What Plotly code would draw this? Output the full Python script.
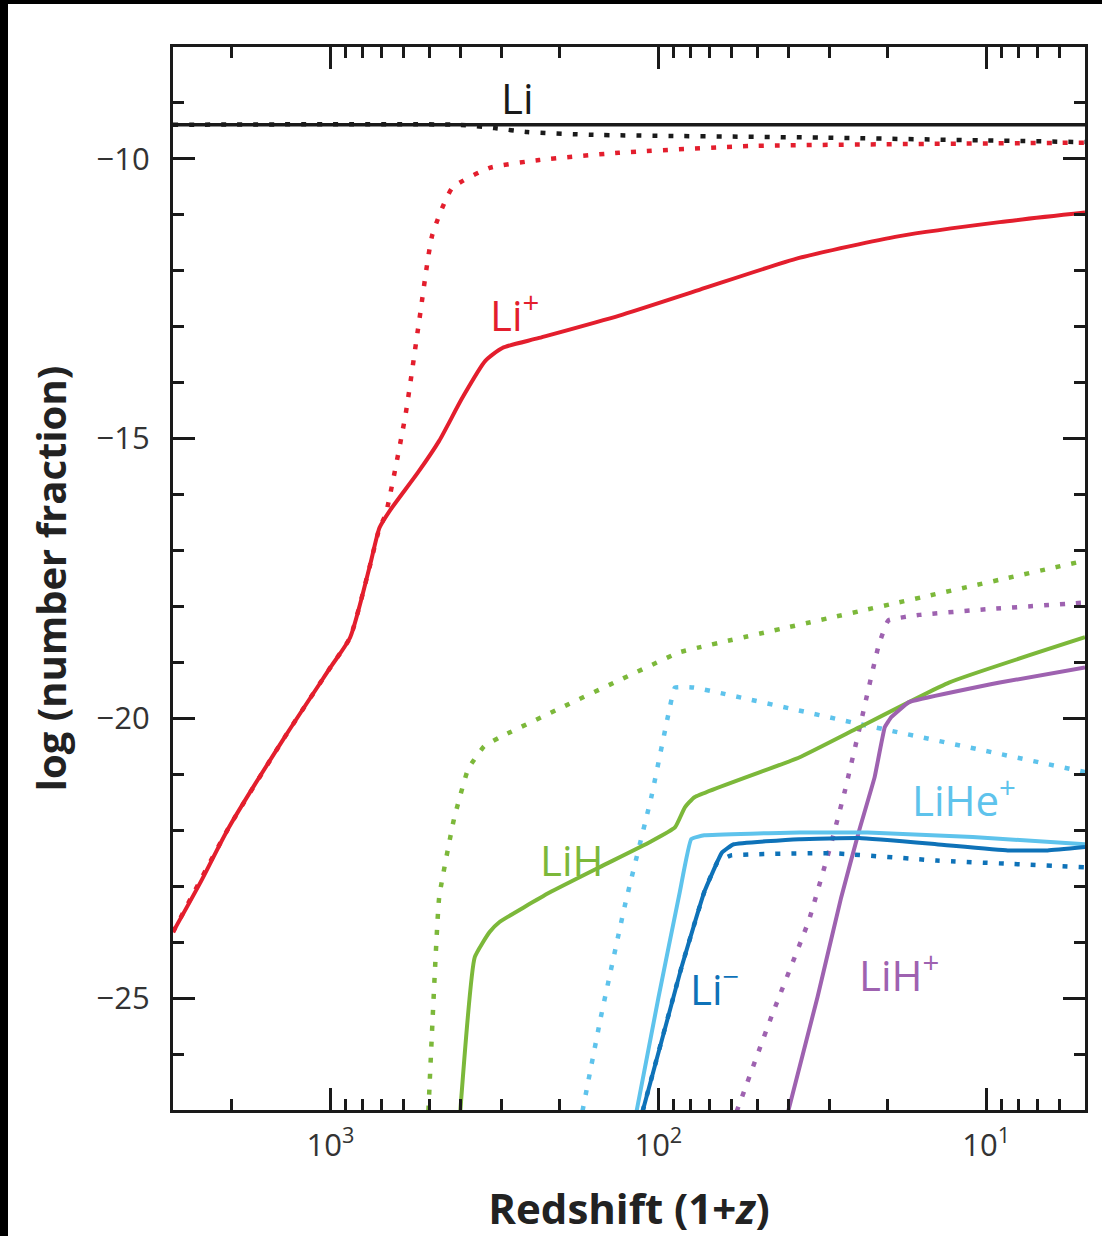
import math
import plotly.graph_objects as go

# ---------------- data (x = 1+z, y = log number fraction) ----------------
li_x = [3020, 5]
li_y = [-9.39, -9.39]

li_dot_x = [3020, 410, 316, 251, 158, 31.6, 10, 5]
li_dot_y = [-9.39, -9.39, -9.45, -9.52, -9.57, -9.62, -9.67, -9.70]

lip_x = [3020, 2500, 2040, 1380, 1000, 870, 760, 708, 661, 540, 466, 396, 337, 299, 231, 131.5, 75, 37.2, 18.4, 9.1, 5]
lip_y = [-23.82, -22.95, -21.95, -20.34, -19.09, -18.55, -17.30, -16.59, -16.30, -15.60, -15.04, -14.27, -13.61, -13.38, -13.20, -12.80, -12.34, -11.77, -11.38, -11.13, -10.96]

lip_dot_x = [3020, 2040, 1380, 1000, 870, 760, 708, 679, 590, 536, 489, 425, 327, 231, 132, 52.5, 5]
lip_dot_y = [-23.82, -21.95, -20.34, -19.09, -18.55, -17.30, -16.59, -16.36, -14.57, -12.89, -11.36, -10.52, -10.16, -10.02, -9.89, -9.77, -9.71]

lih_x = [405, 363, 327, 305, 214, 151, 106, 89, 83, 77.6, 37.2, 24.4, 13.0, 5]
lih_y = [-27.3, -24.27, -23.82, -23.64, -23.11, -22.66, -22.21, -21.95, -21.59, -21.41, -20.70, -20.16, -19.36, -18.55]

lih_dot_x = [505, 466, 420, 380, 340, 305, 86.3, 75, 5]
lih_dot_y = [-27.3, -23.20, -21.80, -20.90, -20.50, -20.34, -18.82, -18.73, -17.18]

lihe_x = [119, 100, 86, 79.4, 72.4, 37, 23, 11, 5]
lihe_y = [-27.3, -25.0, -23.1, -22.16, -22.09, -22.04, -22.04, -22.12, -22.25]

lihe_dot_x = [174, 150, 126, 105, 93, 89, 78, 24.4, 5]
lihe_dot_y = [-27.3, -25.36, -23.30, -21.40, -19.90, -19.45, -19.45, -20.10, -20.96]

lim_x = [115, 85, 72.4, 64, 58.9, 37.2, 24.4, 14.2, 8.6, 6.5, 5]
lim_y = [-27.3, -24.45, -23.10, -22.40, -22.25, -22.16, -22.14, -22.25, -22.36, -22.36, -22.30]

lim_dot_x = [115, 85, 72.4, 66, 60, 29.6, 14.2, 5]
lim_dot_y = [-27.3, -24.45, -23.10, -22.57, -22.45, -22.41, -22.54, -22.66]

lihp_x = [40.5, 32.7, 27.7, 24.4, 21.9, 20.4, 19.5, 17.2, 9.1, 5]
lihp_y = [-27.1, -24.98, -23.20, -22.00, -21.05, -20.16, -19.98, -19.71, -19.36, -19.09]

lihp_dot_x = [60, 45, 34.7, 29.6, 27, 24.4, 21.3, 19.9, 16, 10, 5]
lihp_dot_y = [-27.3, -25.30, -23.60, -22.20, -21.30, -20.20, -18.70, -18.25, -18.15, -18.05, -17.93]

labels = ["Li", "Li<sup>+</sup>", "LiH", "LiHe<sup>+</sup>", "Li<sup>\u2212</sup>", "LiH<sup>+</sup>"]
label_x = [269, 275, 183, 11.7, 67.5, 18.4]
label_y = [-8.91, -12.75, -22.52, -21.41, -24.8, -24.54]

x_tickvals = [1000, 100, 10]
x_ticktext = ["10<sup>3</sup>", "10<sup>2</sup>", "10<sup>1</sup>"]
y_tickvals = [-25, -20, -15, -10]
y_ticktext = ["\u221225", "\u221220", "\u221215", "\u221210"]

# ---------------- styles ----------------
BLACK = "#1a1a1a"
RED = "#e31e2d"
GREEN = "#7cb83a"
LBLUE = "#5ec3ec"
DBLUE = "#0e72b8"
PURPLE = "#9e62b0"
DOT = "5px,11px"

series = [
    (lih_dot_x, lih_dot_y, GREEN, DOT, 4.5, 0.3),
    (lihe_dot_x, lihe_dot_y, LBLUE, DOT, 4.5, 0.3),
    (lihp_dot_x, lihp_dot_y, PURPLE, DOT, 4.5, 0.3),
    (lih_x, lih_y, GREEN, "solid", 4, 0.4),
    (lihp_x, lihp_y, PURPLE, "solid", 4, 0.25),
    (lihe_x, lihe_y, LBLUE, "solid", 4, 0.3),
    (lim_x, lim_y, DBLUE, "solid", 4, 0.3),
    (lim_dot_x, lim_dot_y, DBLUE, DOT, 4.5, 0.3),
    (lip_dot_x, lip_dot_y, RED, DOT, 4.5, 0.5),
    (lip_x, lip_y, RED, "solid", 4, 0.6),
    (li_dot_x, li_dot_y, BLACK, DOT, 4.5, 0.5),
    (li_x, li_y, BLACK, "solid", 3.5, 0.0),
]

fig = go.Figure()
for xs, ys, col, dash, w, sm in series:
    fig.add_trace(go.Scatter(
        x=xs, y=ys, mode="lines",
        line=dict(color=col, width=w, dash=dash, shape="spline" if sm > 0 else "linear",
                  smoothing=sm if sm > 0 else 1),
        showlegend=False, hoverinfo="skip"))

label_colors = [BLACK, RED, GREEN, LBLUE, DBLUE, PURPLE]
for t, lx, ly, c in zip(labels, label_x, label_y, label_colors):
    fig.add_annotation(x=math.log10(lx), y=ly, xref="x", yref="y", text=t, showarrow=False,
                       font=dict(family="Open Sans", size=42, color=c))

W, H = 1102, 1236
L, R, T, B = 173, 17, 47, 126
pw, ph = W - L - R, H - T - B

def px_x(p):
    return (p - L) / pw

def px_y(p):
    return (H - B - p) / ph

# scan-border bands (top and left)
fig.add_shape(type="rect", xref="paper", yref="paper", x0=px_x(0), x1=px_x(W), y0=px_y(4), y1=px_y(0),
              fillcolor="black", line_width=0, layer="above")
fig.add_shape(type="rect", xref="paper", yref="paper", x0=px_x(0), x1=px_x(8), y0=px_y(H), y1=px_y(0),
              fillcolor="black", line_width=0, layer="above")

axis_common = dict(showgrid=False, zeroline=False, showline=True, linecolor=BLACK, linewidth=3,
                   ticks="inside", ticklen=22, tickwidth=3, tickcolor=BLACK, mirror="allticks",
                   tickfont=dict(family="Open Sans", size=31, color="#333333"))

fig.update_xaxes(type="log", range=[math.log10(3020), math.log10(5)],
                 tickvals=x_tickvals, ticktext=x_ticktext, ticklabelstandoff=6,
                 minor=dict(ticks="inside", ticklen=11, tickwidth=3, tickcolor=BLACK, dtick="D1", showgrid=False),
                 title=dict(text="<b>Redshift (1+<i>z</i>)</b>", font=dict(family="Open Sans", size=42, color="#222222"), standoff=32),
                 **axis_common)
fig.update_yaxes(range=[-27, -8], tickvals=y_tickvals, ticktext=y_ticktext, ticklabelstandoff=14,
                 minor=dict(ticks="inside", ticklen=11, tickwidth=3, tickcolor=BLACK, tickmode="linear", tick0=0, dtick=1, showgrid=False),
                 title=dict(text="<b>log (number fraction)</b>", font=dict(family="Open Sans", size=40, color="#222222"), standoff=18),
                 **axis_common)

fig.update_layout(width=W, height=H, margin=dict(l=L, r=R, t=T, b=B, autoexpand=False),
                  paper_bgcolor="white", plot_bgcolor="white")

fig.write_html("out.html", post_script="document.body.style.margin='0';",
               config={"displayModeBar": False})
